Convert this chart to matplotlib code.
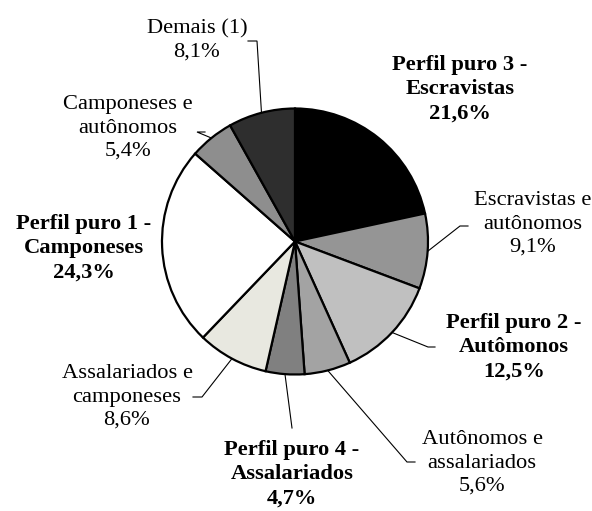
import matplotlib.pyplot as plt
import numpy as np

# slice data, clockwise from 12 o'clock
labels = ['Perfil puro 3 -\nEscravistas', 'Escravistas e\nautônomos', 'Perfil puro 2 -\nAutômonos',
          'Autônomos e\nassalariados', 'Perfil puro 4 -\nAssalariados', 'Assalariados e\ncamponeses',
          'Perfil puro 1 -\nCamponeses', 'Camponeses e\nautônomos', 'Demais (1)']
shares = [21.6, 9.1, 12.5, 5.6, 4.7, 8.6, 24.3, 5.4, 8.1]
bold = [True, False, True, False, True, False, True, False, False]
colors = ['#000000', '#959595', '#c0c0c0', '#a3a3a3', '#808080', '#e8e8e0', '#ffffff', '#8e8e8e', '#2e2e2e']

# layout in pixels of the 592x511 picture: label centre, leader path (label side first)
label_xy = [(460, 89), (533, 224), (514, 347), (482, 463), (292, 474), (127, 397), (84, 248), (128, 128), (197, 40)]
leaders = [None, [(468, 226), (460, 226)], [(435, 347), (428, 347)], [(415, 462), (407, 462)],
           [(292, 428)], [(193, 397), (202, 397)], None, [(205, 132), (197, 132)], [(248, 41), (257, 41)]]

CX, CY, R = 295, 241.5, 133.0


def px(x, y):
    return (x - CX) / R, (CY - y) / R


plt.rcParams['font.family'] = ['Liberation Serif', 'DejaVu Serif']
fig = plt.figure(figsize=(5.92, 5.11), dpi=100)
ax = fig.add_axes([0, 0, 1, 1])

wedges, _ = ax.pie(shares, colors=colors, startangle=90, counterclock=False, radius=1,
                   wedgeprops=dict(edgecolor='black', linewidth=1.6))
ax.set_xlim(px(0, 0)[0], px(592, 0)[0])
ax.set_ylim(px(0, 511)[1], px(0, 0)[1])
ax.set_aspect('equal')
ax.axis('off')

for w, lab, val, b, xy, path in zip(wedges, labels, shares, bold, label_xy, leaders):
    txt = lab + '\n' + f'{val:.1f}'.replace('.', ',') + '%'
    ax.text(*px(*xy), txt, ha='center', va='center', fontsize=16.2,
            fontweight='bold' if b else 'normal', linespacing=1.3)
    if path:
        # leader runs from the label stub to the middle of the wedge's arc
        ang = np.deg2rad((w.theta1 + w.theta2) / 2)
        pts = [px(*p) for p in path] + [(np.cos(ang), np.sin(ang))]
        ax.plot([p[0] for p in pts], [p[1] for p in pts], color='black', lw=0.8,
                solid_joinstyle='miter')

fig.savefig('out.png', dpi=100)
